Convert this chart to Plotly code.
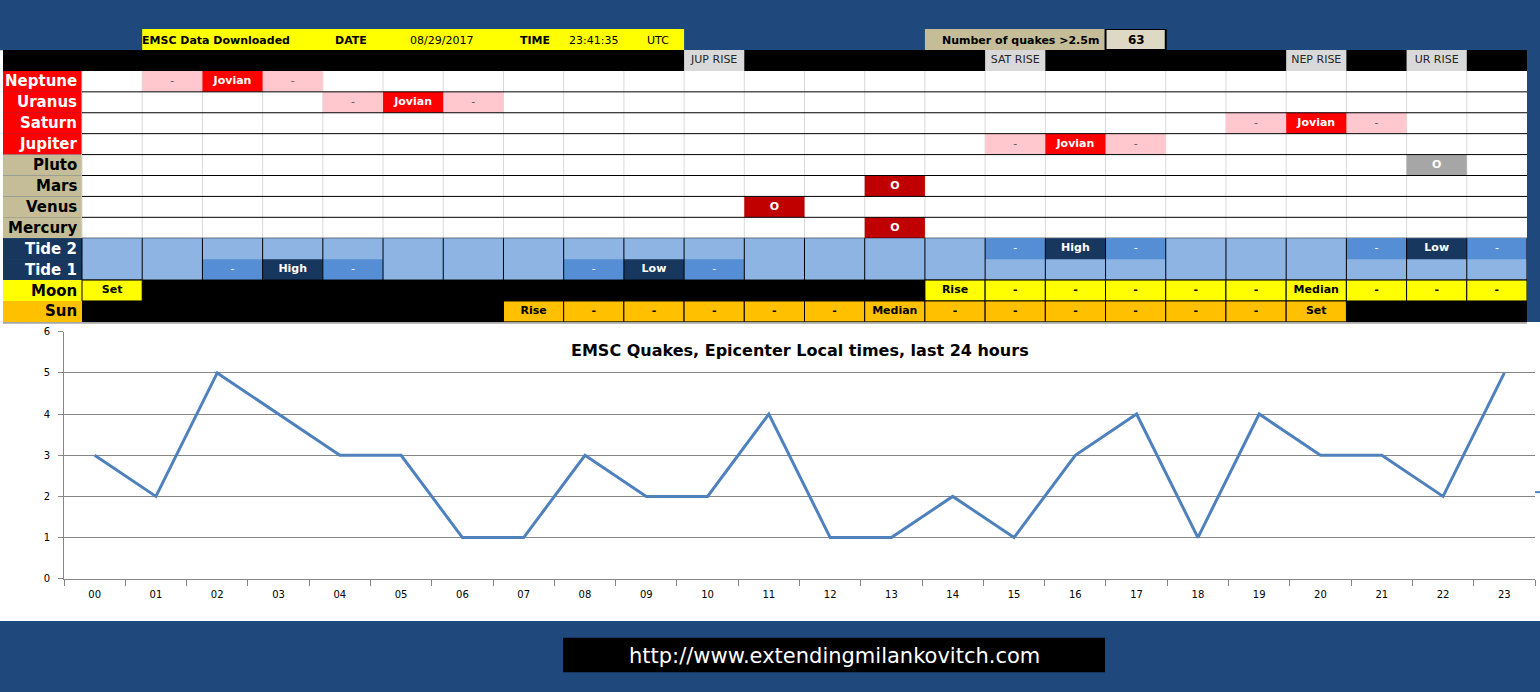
import plotly.graph_objects as go

# ---- data -------------------------------------------------------------
hours = ["00", "01", "02", "03", "04", "05", "06", "07", "08", "09", "10", "11",
         "12", "13", "14", "15", "16", "17", "18", "19", "20", "21", "22", "23"]
quakes = [3, 2, 5, 4, 3, 3, 1, 1, 3, 2, 2, 4, 1, 1, 2, 1, 3, 4, 1, 4, 3, 3, 2, 5]

download_date = "08/29/2017"
download_time = "23:41:35"
quake_count = "63"

planets = ["Neptune", "Uranus", "Saturn", "Jupiter", "Pluto", "Mars", "Venus", "Mercury"]
jovian_planets = ["Neptune", "Uranus", "Saturn", "Jupiter"]
jovian_hours = [2, 5, 20, 16]
conj_planets = ["Pluto", "Mars", "Venus", "Mercury"]
conj_hours = [22, 13, 11, 13]

rise_labels = ["JUP RISE", "SAT RISE", "NEP RISE", "UR RISE"]
rise_hours = [10, 15, 20, 22]

tide2 = ["", "", "", "", "", "", "", "", "", "", "", "",
         "", "", "", "-", "High", "-", "", "", "", "-", "Low", "-"]
tide1 = ["", "", "-", "High", "-", "", "", "", "-", "Low", "-", "",
         "", "", "", "", "", "", "", "", "", "", "", ""]
moon = ["Set", None, None, None, None, None, None, None, None, None, None, None,
        None, None, "Rise", "-", "-", "-", "-", "-", "Median", "-", "-", "-"]
sun = [None, None, None, None, None, None, None, "Rise", "-", "-", "-", "-",
       "-", "Median", "-", "-", "-", "-", "-", "-", "Set", None, None, None]

row_labels = planets + ["Tide 2", "Tide 1", "Moon", "Sun"]

# ---- geometry helpers -------------------------------------------------
W, H = 1540, 692
COLW = (1527 - 82) / 24
LX = -0.5 - (82 - 3) / COLW  # left edge of the label column in table units

NAVY_BG = "#1F497D"
FONT = "DejaVu Sans"


def px(x):
    return x / W


def py(y):
    return 1 - y / H


shapes = []
annotations = []
cell_text = {}  # (color, size) -> ([x], [y], [text])


def trect(x0, x1, y0, y1, fill, line_color=None, line_width=0):
    shapes.append(dict(type="rect", xref="x2", yref="y2", x0=x0, x1=x1, y0=y0, y1=y1,
                       fillcolor=fill, layer="below",
                       line=dict(color=line_color or fill, width=line_width)))


def tline(x0, x1, y0, y1, color, width=1):
    shapes.append(dict(type="line", xref="x2", yref="y2", x0=x0, x1=x1, y0=y0, y1=y1,
                       layer="below", line=dict(color=color, width=width)))


def prect(x0, x1, y0, y1, fill, line_color=None, line_width=0):
    shapes.append(dict(type="rect", xref="paper", yref="paper",
                       x0=px(x0), x1=px(x1), y0=py(y1), y1=py(y0),
                       fillcolor=fill, layer="below",
                       line=dict(color=line_color or fill, width=line_width)))


def ctext(col, row, text, color="black", size=11, bold=True):
    key = (color, size)
    xs, ys, ts = cell_text.setdefault(key, ([], [], []))
    xs.append(col)
    ys.append(row)
    ts.append(f"<b>{text}</b>" if bold else text)


def ptext(x, y, text, size=11, color="black", anchor="left", bold=True):
    annotations.append(dict(xref="paper", yref="paper", x=px(x), y=py(y),
                            text=f"<b>{text}</b>" if bold else text, showarrow=False,
                            xanchor=anchor, yanchor="middle",
                            font=dict(family=FONT, size=size, color=color)))


# ---- page backgrounds -------------------------------------------------
prect(0, W, 322, 626, "white")
prect(0, 3, 46, 322, "white")
prect(1535, 1540, 494, 496, "#4F81BD")  # stray legend key at the right edge

# ---- header row (-2) --------------------------------------------------
trect(0.5, 9.5, -2.5, -1.5, "#FFFF00")
trect(13.5, 16.5, -2.5, -1.5, "#C4BD97")
trect(16.5, 17.5, -2.5, -1.5, "#DDD9C4", "black", 2)
ptext(140, 36, "EMSC Data Downloaded")
ptext(333, 36, "DATE")
ptext(408, 36, download_date, bold=False)
ptext(518, 36, "TIME")
ptext(567, 36, download_time, bold=False)
ptext(645, 36, "UTC", bold=False)
ptext(1101, 36, "Number of quakes &gt;2.5m", anchor="right")
ptext(1136, 36, quake_count, size=12, anchor="center")

# ---- rise band (-1) ---------------------------------------------------
trect(LX, 23.5, -1.5, -0.5, "black")
for lab, h in zip(rise_labels, rise_hours):
    trect(h - 0.5, h + 0.5, -1.5, -0.5, "#D9D9D9")
    ctext(h, -1, lab, color="#262626", size=11, bold=False)

# ---- label column -----------------------------------------------------
label_fill = ["#FF0000"] * 4 + ["#C4BD97"] * 4 + ["#17375E"] * 2 + ["#FFFF00", "#FFC000"]
label_font = ["white"] * 4 + ["black"] * 4 + ["white"] * 2 + ["black", "black"]
for r, (lab, fill, fc) in enumerate(zip(row_labels, label_fill, label_font)):
    trect(LX, -0.5, r - 0.5, r + 0.5, fill)
    annotations.append(dict(xref="x2", yref="y2", x=-0.55, y=r, text=f"<b>{lab}</b>",
                            showarrow=False, xanchor="right", yanchor="middle",
                            font=dict(family=FONT, size=15, color=fc)))

# ---- planet rows (0-7) ------------------------------------------------
trect(-0.5, 23.5, -0.5, 7.5, "white")
for k in range(24):
    tline(k - 0.5, k - 0.5, -0.5, 7.5, "#D9D9D9", 1)
for name, h in zip(jovian_planets, jovian_hours):
    r = planets.index(name)
    trect(h - 1.5, h - 0.5, r - 0.5, r + 0.5, "#FFC7CE")
    trect(h + 0.5, h + 1.5, r - 0.5, r + 0.5, "#FFC7CE")
    trect(h - 0.5, h + 0.5, r - 0.5, r + 0.5, "#FF0000")
    ctext(h - 1, r, "-", color="#595959", bold=False)
    ctext(h + 1, r, "-", color="#595959", bold=False)
    ctext(h, r, "Jovian", color="white")
for name, h in zip(conj_planets, conj_hours):
    r = planets.index(name)
    fill = "#A6A6A6" if name == "Pluto" else "#C00000"
    trect(h - 0.5, h + 0.5, r - 0.5, r + 0.5, fill)
    ctext(h, r, "O", color="white")
for r in range(8):
    tline(-0.5, 23.5, r + 0.5, r + 0.5, "black", 1)

# ---- tide rows (8-9) --------------------------------------------------
trect(-0.5, 23.5, 7.5, 9.5, "#8DB4E2")
for r, tide in ((8, tide2), (9, tide1)):
    for h, v in enumerate(tide):
        if not v:
            continue
        fill = "#558ED5" if v == "-" else "#17375E"
        trect(h - 0.5, h + 0.5, r - 0.5, r + 0.5, fill)
        ctext(h, r, v, color="white", bold=(v != "-"))
for k in range(25):
    tline(k - 0.5, k - 0.5, 7.5, 9.5, "black", 1)
tline(-0.5, 23.5, 9.5, 9.5, "black", 1)

# ---- moon / sun rows (10-11) ------------------------------------------
trect(-0.5, 23.5, 9.5, 11.5, "black")
for r, vals, fill in ((10, moon, "#FFFF00"), (11, sun, "#FFC000")):
    for h, v in enumerate(vals):
        if v is None:
            continue
        trect(h - 0.5, h + 0.5, r - 0.5, r + 0.5, fill, "black", 1)
        ctext(h, r, v, color="black", bold=True)
prect(3, 1527, 322, 324, "#A6A6A6")

# ---- footer -----------------------------------------------------------
prect(563, 1105, 643, 678, "black")
ptext(834, 662, "http://www.extendingmilankovitch.com", size=21, color="white",
      anchor="center", bold=False)

# ---- chart ------------------------------------------------------------
fig = go.Figure()
fig.add_trace(go.Scatter(x=hours, y=quakes, mode="lines", xaxis="x", yaxis="y",
                         line=dict(color="#4F81BD", width=3), showlegend=False))
for (color, size), (xs, ys, ts) in cell_text.items():
    fig.add_trace(go.Scatter(x=xs, y=ys, text=ts, mode="text", xaxis="x2", yaxis="y2",
                             textfont=dict(family=FONT, size=size, color=color),
                             showlegend=False, hoverinfo="skip"))

shapes.insert(0, dict(type="rect", xref="x domain", yref="y domain", x0=0, x1=1,
                      y0=0, y1=1, fillcolor="#FDE9D9", layer="below", line_width=0))

annotations.append(dict(xref="x domain", yref="paper", x=0.5, y=py(351),
                        text="<b>EMSC Quakes, Epicenter Local times, last 24 hours</b>",
                        showarrow=False, xanchor="center", yanchor="middle",
                        font=dict(family=FONT, size=16, color="black")))

fig.update_layout(
    width=W,
    height=H,
    margin=dict(l=0, r=0, t=0, b=0),
    paper_bgcolor=NAVY_BG,
    plot_bgcolor="rgba(0,0,0,0)",
    font=dict(family=FONT, color="black"),
    showlegend=False,
    shapes=shapes,
    annotations=annotations,
    xaxis=dict(
        domain=[px(64), px(1535)],
        anchor="y",
        type="category",
        range=[-0.5, 23.5],
        showline=True,
        linecolor="#868686",
        ticks="outside",
        tickson="boundaries",
        ticklen=6,
        tickcolor="#868686",
        ticklabelstandoff=6,
        showgrid=False,
        tickfont=dict(size=10, color="black"),
        fixedrange=True,
    ),
    yaxis=dict(
        domain=[py(583), py(332)],
        anchor="x",
        range=[0, 6],
        dtick=1,
        showline=True,
        linecolor="#868686",
        ticks="outside",
        ticklen=5,
        tickcolor="#868686",
        ticklabelstandoff=6,
        showgrid=True,
        gridcolor="#868686",
        zeroline=False,
        tickfont=dict(size=10, color="black"),
        fixedrange=True,
    ),
    xaxis2=dict(
        domain=[px(3), px(1527)],
        anchor="y2",
        range=[LX, 23.5],
        visible=False,
        fixedrange=True,
    ),
    yaxis2=dict(
        domain=[py(322), py(24.5)],
        anchor="x2",
        range=[11.5, -2.5],
        visible=False,
        fixedrange=True,
    ),
)

fig.write_html("out.html", post_script="document.body.style.margin='0px';",
               config=dict(displayModeBar=False))
